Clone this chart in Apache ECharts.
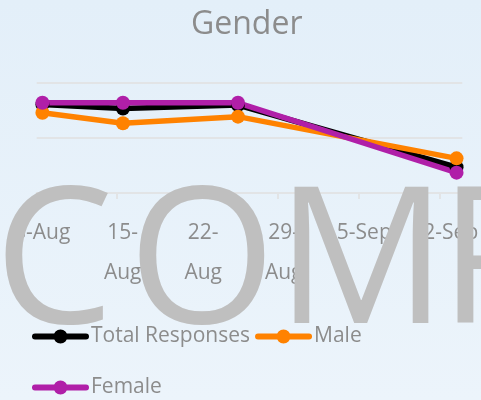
<!DOCTYPE html>
<html>
<head>
<meta charset="utf-8">
<title>Gender</title>
<script src="https://cdn.jsdelivr.net/npm/echarts@6/dist/echarts.min.js"></script>
<style>
    html, body {margin: 0; padding: 0;}
    #c1 {width: 481px; height: 400px; background: linear-gradient(#e3eff9, #ecf4fb);}
</style>
</head>
<body>
<div id="c1"></div>
<script>
//轴起点日期
var startDate = '2019-08-08';
//数据点日期
var pointDates = ['2019-08-08', '2019-08-15', '2019-08-25', '2019-09-13'];
//系列数值
var totalResponses = [80.5, 76.8, 80, 23.4];
var male = [73, 63.4, 69.4, 31.5];
var female = [82.1, 82.1, 82, 18.5];
//刻度标签 (每7天一个)
var tickLabels = ['8-Aug', '15-\nAug', '22-\nAug', '29-\nAug', '5-Sep', '12-Sep'];

var seriesNames = ['Total Responses', 'Male', 'Female'];
var seriesColors = ['#000000', '#ff8200', '#b01fa8'];
var gridColor = '#e2e4e6';
var textColor = '#8c8c8c';
var font = 'Open Sans';
//图例图标: 粗线(圆头) + 圆点
var legendIcon = 'path://M3,4h51a3,3 0 0,1 0,6h-51a3,3 0 0,1 0,-6z M21.5,7a7,7 0 1,1 14,0a7,7 0 1,1 -14,0z';

//日期转为轴上位置 (天数, 居中于当天)
function dayOffset(d) {
    return (Date.parse(d) - Date.parse(startDate)) / 86400000 + 0.5;
}

function toPoints(values) {
    return pointDates.map(function (d, i) {
        return [dayOffset(d), values[i]];
    });
}

//水印字母
function watermark() {
    var letters = [['C', -6], ['O', 128], ['M', 276], ['P', 439]];
    return letters.map(function (l) {
        return {
            type: 'text',
            z: 100,
            style: {
                text: l[0],
                x: l[1],
                y: 269,
                font: '190px "' + font + '"',
                fill: '#bfbfbf',
                verticalAlign: 'middle'
            }
        };
    });
}

function legendItems(names) {
    return names.map(function (n) {
        return {name: n, icon: legendIcon};
    });
}

var chart = echarts.init(document.getElementById('c1'));
var legendText = {fontFamily: font, fontSize: 21, color: textColor, lineHeight: 24, padding: [0, 0, 0, -3]};

chart.setOption({
    animation: false,
    title: {
        text: 'Gender',
        left: 191,
        top: 9,
        padding: 0,
        textStyle: {fontFamily: font, fontSize: 32, fontWeight: 'normal', color: textColor}
    },
    legend: [{
        data: legendItems(seriesNames.slice(0, 2)),
        left: 32, top: 324.5, padding: 0,
        itemWidth: 57, itemHeight: 14, itemGap: 5,
        textStyle: legendText
    }, {
        data: legendItems(seriesNames.slice(2)),
        left: 32, top: 375.5, padding: 0,
        itemWidth: 57, itemHeight: 14, itemGap: 5,
        textStyle: legendText
    }],
    grid: {left: 32, right: 18, top: 83, bottom: 207},
    xAxis: {
        type: 'value',
        min: 0,
        max: 37,
        interval: 7,
        splitLine: {show: false},
        axisLine: {lineStyle: {color: gridColor, width: 2}},
        axisTick: {show: true, length: 6, lineStyle: {color: gridColor, width: 2}},
        axisLabel: {
            margin: 20,
            fontFamily: font,
            fontSize: 21,
            lineHeight: 40,
            color: textColor,
            padding: [0, 0, 0, 11],
            formatter: function (v) {
                if (v % 7 !== 0) {
                    return '';
                }
                return tickLabels[v / 7] || '';
            }
        }
    },
    yAxis: {
        type: 'value',
        min: 0,
        max: 100,
        interval: 50,
        axisLabel: {show: false},
        axisLine: {show: false},
        axisTick: {show: false},
        splitLine: {lineStyle: {color: gridColor, width: 2}}
    },
    series: [totalResponses, male, female].map(function (vals, i) {
        return {
            name: seriesNames[i],
            type: 'line',
            data: toPoints(vals),
            symbol: 'circle',
            symbolSize: 14,
            color: seriesColors[i],
            lineStyle: {width: 5.5, color: seriesColors[i]}
        };
    }),
    graphic: watermark()
});
</script>
</body>
</html>
